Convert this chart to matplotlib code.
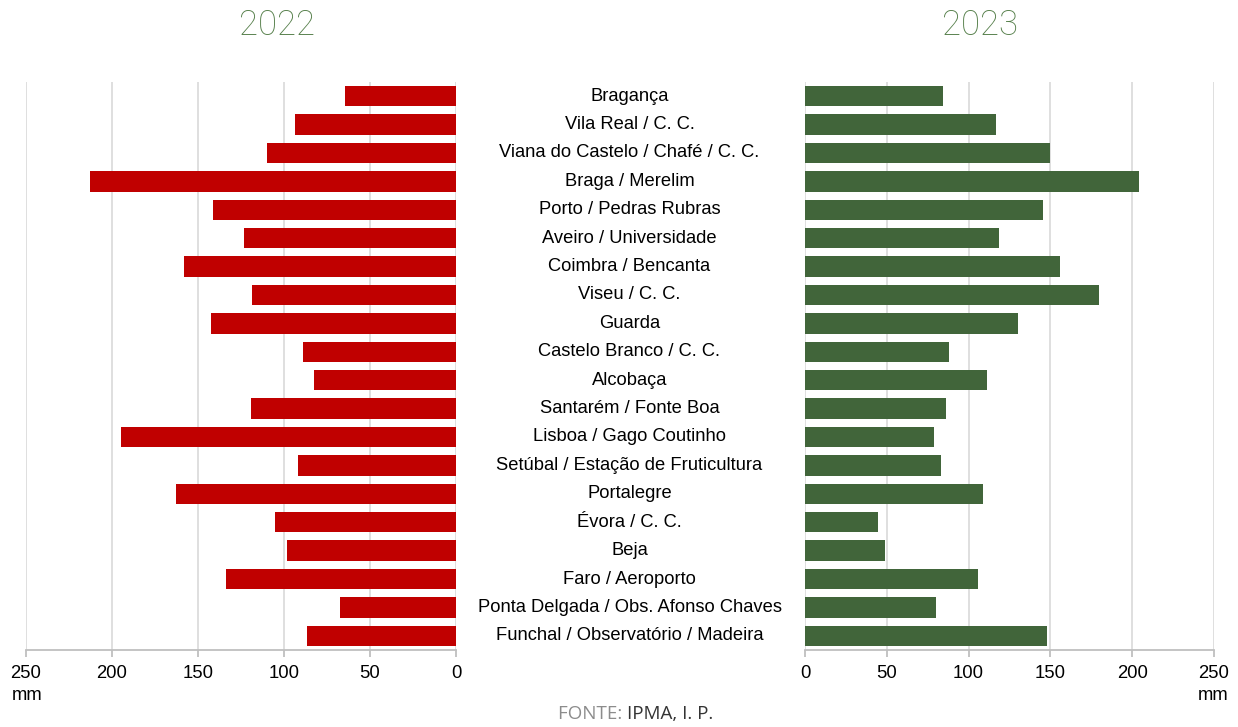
import matplotlib
matplotlib.use("Agg")
import matplotlib.pyplot as plt
import matplotlib.transforms as mtransforms
import numpy as np

stations = [
    "Bragança", "Vila Real / C. C.", "Viana do Castelo / Chafé / C. C.",
    "Braga / Merelim", "Porto / Pedras Rubras", "Aveiro / Universidade",
    "Coimbra / Bencanta", "Viseu / C. C.", "Guarda", "Castelo Branco / C. C.",
    "Alcobaça", "Santarém / Fonte Boa", "Lisboa / Gago Coutinho",
    "Setúbal / Estação de Fruticultura", "Portalegre", "Évora / C. C.",
    "Beja", "Faro / Aeroporto", "Ponta Delgada / Obs. Afonso Chaves",
    "Funchal / Observatório / Madeira",
]
values_2022 = [64.5, 93.5, 110, 213, 141, 123, 158, 118.5, 142.5, 89,
               82.5, 119, 195, 92, 163, 105, 98, 134, 67.5, 86.5]
values_2023 = [84.5, 117, 150, 204, 145.5, 118.5, 156, 180, 130, 88,
               111, 86, 79, 83, 109, 44.5, 49, 106, 80, 148]
ticks = [0, 50, 100, 150, 200, 250]

RED = "#c00000"
GREEN = "#41653a"
GRID = "#dcdcdc"
TITLE_GREEN = "#557f4a"

plt.rcParams['font.family'] = ['Liberation Sans', 'DejaVu Sans']

fig = plt.figure(figsize=(12.38, 7.27), dpi=100)
bottom, top = 1 - 650 / 727, 1 - 82 / 727
axL = fig.add_axes([26 / 1238, bottom, (456 - 26) / 1238, top - bottom])
axR = fig.add_axes([805 / 1238, bottom, (1214 - 805) / 1238, top - bottom])

y = np.arange(len(stations))
axL.barh(y, values_2022, height=0.72, color=RED, zorder=3)
axR.barh(y, values_2023, height=0.72, color=GREEN, zorder=3)

for ax in (axL, axR):
    ax.set_ylim(len(stations) - 0.5, -0.5)
    ax.set_xticks(ticks)
    ax.set_xticklabels([str(t) for t in ticks], fontsize=13.3, color="#000000")
    ax.set_yticks([])
    ax.grid(axis="x", color=GRID, linewidth=1.3, zorder=0)
    for s in ("top", "left", "right"):
        ax.spines[s].set_visible(False)
    ax.spines["bottom"].set_color("#bfbfbf")
    ax.spines["bottom"].set_linewidth(1.3)
    ax.tick_params(axis="x", length=5, width=1.3, color="#bfbfbf", pad=6)

axL.set_xlim(250, 0)
axR.set_xlim(0, 250)

# Station labels in the centre
trans = mtransforms.blended_transform_factory(fig.transFigure, axL.transData)
for i, name in enumerate(stations):
    fig.text(629.5 / 1238, i, name, transform=trans, ha="center", va="center",
             fontsize=13.2, color="#000000")

# Year titles
fig.text(277 / 1238, 1 - 25 / 727, "2022", ha="center", va="center",
         fontsize=25, color=TITLE_GREEN, family=["Roboto", "DejaVu Sans"],
         fontweight="light")
fig.text(980 / 1238, 1 - 25 / 727, "2023", ha="center", va="center",
         fontsize=25, color=TITLE_GREEN, family=["Roboto", "DejaVu Sans"],
         fontweight="light")

# Units
fig.text(27 / 1238, 1 - 696 / 727, "mm", ha="center", va="center", fontsize=13.3)
fig.text(1213 / 1238, 1 - 696 / 727, "mm", ha="center", va="center", fontsize=13.3)

# Source
fig.text(627 / 1238, 1 - 714 / 727, "FONTE: ", ha="right", va="center",
         fontsize=13.5, color="#8c8c8c", family=["Open Sans", "DejaVu Sans"])
fig.text(627 / 1238, 1 - 714 / 727, "IPMA, I. P.", ha="left", va="center",
         fontsize=13.5, color="#333333", family=["Open Sans", "DejaVu Sans"])

fig.savefig("out.png", dpi=100)
